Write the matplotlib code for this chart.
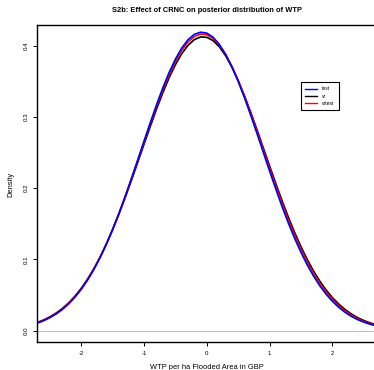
import numpy as np
from matplotlib import pyplot as plt

plt.rcParams['font.family'] = ['Liberation Sans', 'DejaVu Sans']

# WTP grid (-2.7 .. 2.7 in steps of 0.1) and density values
wtp = np.round(np.arange(-2.7, 2.7001, 0.1), 1)

dens_test = [0.0105, 0.0138, 0.0181, 0.0233, 0.0297, 0.0375, 0.0469, 0.0579, 0.0708, 0.0856,
             0.1024, 0.1212, 0.1419, 0.1644, 0.1884, 0.2137, 0.2397, 0.2660, 0.2920, 0.3172,
             0.3409, 0.3624, 0.3811, 0.3966, 0.4083, 0.4158, 0.4189, 0.4176, 0.4118, 0.4017,
             0.3877, 0.3702, 0.3498, 0.3269, 0.3022, 0.2765, 0.2502, 0.2240, 0.1984, 0.1738,
             0.1507, 0.1293, 0.1097, 0.0921, 0.0765, 0.0628, 0.0511, 0.0411, 0.0327, 0.0257,
             0.0200, 0.0154, 0.0118, 0.0089, 0.0066]

dens_vr = [0.0114, 0.0148, 0.0192, 0.0245, 0.0311, 0.0389, 0.0483, 0.0593, 0.0721, 0.0867,
           0.1031, 0.1215, 0.1417, 0.1635, 0.1868, 0.2111, 0.2362, 0.2616, 0.2867, 0.3111,
           0.3340, 0.3549, 0.3733, 0.3886, 0.4004, 0.4084, 0.4122, 0.4117, 0.4071, 0.3984,
           0.3858, 0.3699, 0.3509, 0.3296, 0.3063, 0.2818, 0.2565, 0.2312, 0.2062, 0.1820,
           0.1590, 0.1375, 0.1177, 0.0997, 0.0836, 0.0694, 0.0570, 0.0463, 0.0373, 0.0297,
           0.0234, 0.0182, 0.0141, 0.0108, 0.0081]

dens_vrtest = [0.0110, 0.0144, 0.0187, 0.0240, 0.0305, 0.0383, 0.0477, 0.0587, 0.0716, 0.0863,
               0.1030, 0.1216, 0.1421, 0.1643, 0.1879, 0.2128, 0.2384, 0.2643, 0.2899, 0.3147,
               0.3380, 0.3593, 0.3779, 0.3933, 0.4051, 0.4128, 0.4163, 0.4154, 0.4102, 0.4008,
               0.3876, 0.3708, 0.3511, 0.3289, 0.3049, 0.2797, 0.2539, 0.2281, 0.2027, 0.1783,
               0.1552, 0.1337, 0.1139, 0.0961, 0.0802, 0.0662, 0.0541, 0.0437, 0.0350, 0.0277,
               0.0217, 0.0168, 0.0129, 0.0098, 0.0074]

xticks = [-2, -1, 0, 1, 2]
yticks = [0, 0.1, 0.2, 0.3, 0.4]

fig = plt.figure(figsize=(3.74, 3.70), dpi=100)
ax = fig.add_axes([37.3 / 374, 1 - 342.3 / 370, 339 / 374, 317.3 / 370])

# zero line, then the three posterior densities (blue drawn last, on top)
ax.axhline(0, color='#bebebe', lw=0.8)
l_vr, = ax.plot(wtp, dens_vr, color='black', lw=1.2)
l_vrt, = ax.plot(wtp, dens_vrtest, color='red', lw=1.2)
l_t, = ax.plot(wtp, dens_test, color='blue', lw=1.2)

ax.set_xlim(-2.7, 2.7)
ax.set_ylim(-0.0165, 0.429)
ax.set_xticks(xticks, [str(t) for t in xticks])
ax.set_yticks(yticks, [f'{t:.1f}' for t in yticks])
ax.tick_params(direction='out', length=3, width=0.7, labelsize=4.4, pad=3.0)
for lab in ax.get_yticklabels():
    lab.set_rotation(90)
    lab.set_va('center')
for s in ax.spines.values():
    s.set_linewidth(1.0)

leg = ax.legend([l_t, l_vr, l_vrt], ['test', 'vr', 'vrtest'], loc='upper left',
                bbox_to_anchor=(0.777, 0.821), borderaxespad=0, fancybox=False,
                edgecolor='black', framealpha=1, fontsize=3.6, handlelength=2.3,
                handletextpad=1.0, labelspacing=0.45, borderpad=0.9)
leg.get_frame().set_linewidth(0.8)
for h in leg.get_lines():
    h.set_linewidth(1.0)

fig.text(206.7 / 374, 1 - 11 / 370, 'S2b: Effect of CRNC on posterior distribution of WTP',
         ha='center', va='center', fontsize=5.4, fontweight='bold')
fig.text(206.7 / 374, 1 - 367.7 / 370, 'WTP per ha Flooded Area in GBP',
         ha='center', va='center', fontsize=5.4)
fig.text(11 / 374, 1 - 184 / 370, 'Density', ha='center', va='center', rotation=90, fontsize=5.4)

fig.savefig('out.png', dpi=100)
